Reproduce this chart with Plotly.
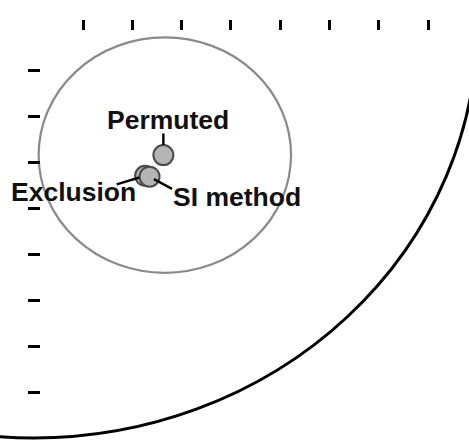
import plotly.graph_objects as go

# Methods compared on the diagram and their plotted coordinates
methods = ["Permuted", "Exclusion", "SI method"]
x_vals = [2.63, 2.26, 2.35]
y_vals = [2.85, 3.30, 3.32]

# Reference arc radius and the contour circle around the permuted result
ref_radius = 9.0
contour_cx = 2.66
contour_cy = 2.85
contour_r = 2.56

# Axis tick positions (unlabelled)
tick_vals = [1, 2, 3, 4, 5, 6, 7, 8]

W, H = 469, 440

fig = go.Figure()

fig.add_trace(go.Scatter(
    x=x_vals, y=y_vals, mode="markers",
    marker=dict(size=20, color="#b4b4b4",
                line=dict(color="#4a4a4a", width=2)),
    hoverinfo="text", text=methods, showlegend=False,
))

# Outer reference arc (circle centred at the origin)
fig.add_shape(type="circle", xref="x", yref="y",
              x0=-ref_radius, x1=ref_radius, y0=-ref_radius, y1=ref_radius,
              line=dict(color="#000000", width=3), layer="below")

# Contour circle
fig.add_shape(type="circle", xref="x", yref="y",
              x0=contour_cx - contour_r, x1=contour_cx + contour_r,
              y0=contour_cy - contour_r, y1=contour_cy + contour_r,
              line=dict(color="#8a8a8a", width=2.2), layer="below")

# Label placement and leader lines (pixel offsets from each point)
label_pos = {"Permuted": (2.73, 2.08), "Exclusion": (0.81, 3.66), "SI method": (4.12, 3.76)}
leader = {"Permuted": (0, -23, 10), "Exclusion": (-30, 9, 6), "SI method": (24, 13, 5)}

for name, x, y in zip(methods, x_vals, y_vals):
    ax, ay, so = leader[name]
    fig.add_annotation(x=x, y=y, xref="x", yref="y", text="",
                       showarrow=True, arrowhead=0, arrowwidth=2.4,
                       arrowcolor="#000000", ax=ax, ay=ay, standoff=so)
    lx, ly = label_pos[name]
    fig.add_annotation(x=lx, y=ly, xref="x", yref="y", text="<b>%s</b>" % name,
                       showarrow=False, xanchor="center", yanchor="middle",
                       font=dict(family="Liberation Sans, Arial, sans-serif",
                                 size=26.5, color="#111111"))

x0_px, ux = 33.7, 49.3
y0_px, uy = 24.0, 46.0

fig.update_layout(
    width=W, height=H,
    margin=dict(l=0, r=0, t=0, b=0),
    paper_bgcolor="white", plot_bgcolor="white",
    xaxis=dict(range=[-x0_px / ux, (W - x0_px) / ux],
               side="top", anchor="free", position=1 - 30 / H,
               tickmode="array", tickvals=tick_vals, showticklabels=False,
               ticks="outside", ticklen=10, tickwidth=3, tickcolor="#000000",
               showgrid=False, zeroline=False, showline=False, fixedrange=True),
    yaxis=dict(range=[(H - y0_px) / uy, -y0_px / uy],
               side="left", anchor="free", position=40 / W,
               tickmode="array", tickvals=tick_vals, showticklabels=False,
               ticks="outside", ticklen=12, tickwidth=3, tickcolor="#000000",
               showgrid=False, zeroline=False, showline=False, fixedrange=True),
    showlegend=False,
)

fig.write_html("out.html")
